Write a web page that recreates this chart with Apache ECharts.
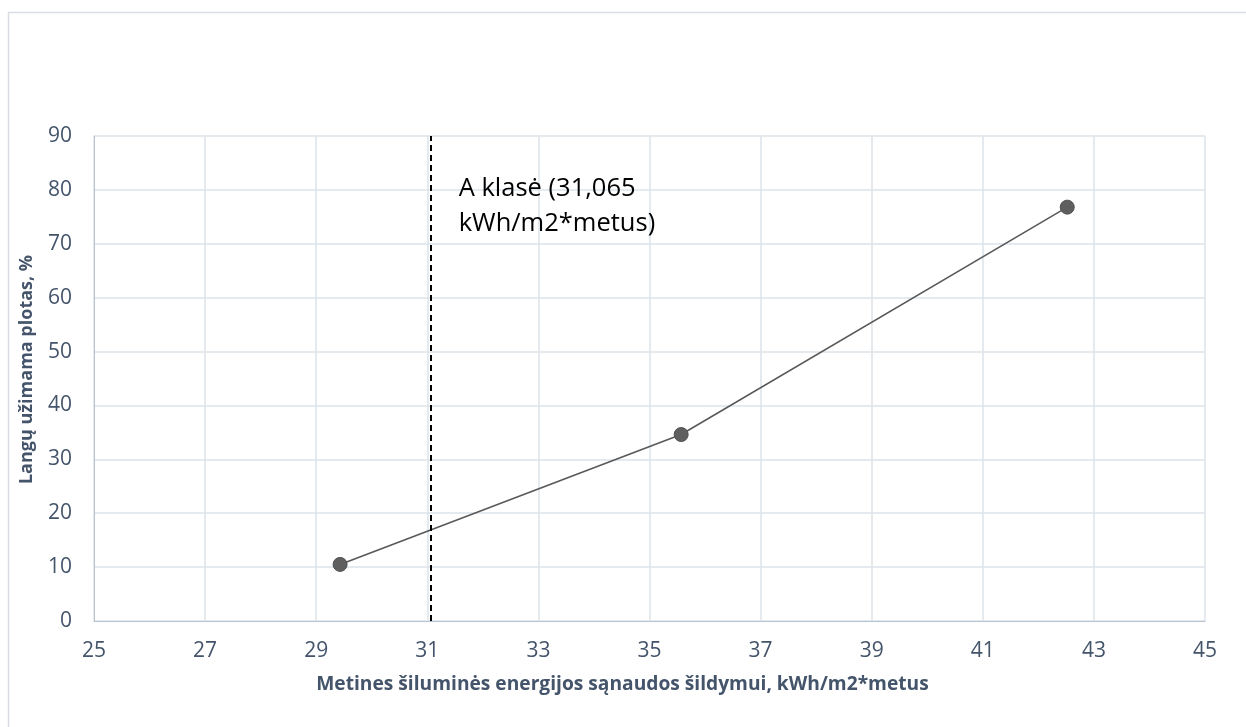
<!DOCTYPE html>
<html>
<head>
<meta charset="utf-8">
<script src="https://cdn.jsdelivr.net/npm/echarts@6/dist/echarts.min.js"></script>
<style>
  html, body { margin: 0; padding: 0; background: #fff; }
  #chart { width: 1246px; height: 727px; }
</style>
</head>
<body>
<div id="chart"></div>
<script>
// Heating energy demand vs. window share of the facade
const energyUse = [29.43, 35.57, 42.52];   // kWh/m2*metus
const windowShare = [10.5, 34.6, 76.8];    // %
const classALimit = 31.065;
const classALabel = ['A klasė (31,065', 'kWh/m2*metus)'];
const xTitle = 'Metines šiluminės energijos sąnaudos šildymui, kWh/m2*metus';
const yTitle = 'Langų užimama plotas, %';

const textColor = '#44546a';
const gridColor = '#dde3ea';
const axisColor = '#b8c3d0';
const fontFamily = '"Open Sans", Lato, sans-serif';

const chart = echarts.init(document.getElementById('chart'), null, { renderer: 'canvas' });

const points = energyUse.map((x, i) => [x, windowShare[i]]);

chart.setOption({
  animation: false,
  backgroundColor: '#fff',
  grid: { left: 94, right: 41, top: 136, bottom: 106, containLabel: false },
  xAxis: {
    type: 'value',
    min: 25, max: 45, interval: 2,
    name: xTitle,
    nameLocation: 'middle',
    nameGap: 54,
    nameTextStyle: { color: textColor, fontSize: 19.2, fontWeight: 'bold', fontFamily, padding: [0, 54, 0, 0] },
    axisLine: { show: true, lineStyle: { color: axisColor, width: 1 } },
    axisTick: { show: false },
    axisLabel: { color: textColor, fontSize: 21, fontFamily, margin: 20 },
    splitLine: { show: true, lineStyle: { color: gridColor, width: 1.5 } }
  },
  yAxis: {
    type: 'value',
    min: 0, max: 90, interval: 10,
    name: yTitle,
    nameLocation: 'middle',
    nameGap: 58,
    nameTextStyle: { color: textColor, fontSize: 18, fontWeight: 'bold', fontFamily, padding: [0, 0, 0, 18] },
    axisLine: { show: true, lineStyle: { color: axisColor, width: 1 } },
    axisTick: { show: false },
    axisLabel: { color: textColor, fontSize: 21, fontFamily, margin: 22 },
    splitLine: { show: true, lineStyle: { color: gridColor, width: 1.5 } }
  },
  series: [{
    type: 'line',
    data: points,
    symbol: 'circle',
    symbolSize: 14,
    itemStyle: { color: '#5f5f5f', borderColor: '#505050', borderWidth: 1 },
    lineStyle: { color: '#595959', width: 1.6 },
    markLine: {
      silent: true,
      symbol: 'none',
      label: { show: false },
      lineStyle: { color: '#000', width: 2, type: [6, 4] },
      data: [{ xAxis: classALimit }]
    }
  }]
});

// Annotation text next to the class A threshold line
const anchor = chart.convertToPixel({ gridIndex: 0 }, [classALimit + 0.5, 83.5]);
chart.setOption({
  graphic: [
    {
      type: 'rect',
      shape: { x: 8.5, y: 12.5, width: 1260, height: 740 },
      style: { fill: 'none', stroke: '#d9dde3', lineWidth: 1.5 },
      silent: true,
      z: -1
    },
    {
      type: 'text',
      x: anchor[0],
      y: anchor[1],
      style: {
        text: classALabel.join('\n'),
        fill: '#000',
        fontSize: 25.5,
        fontFamily,
        lineHeight: 35
      },
      silent: true
    }
  ]
});
</script>
</body>
</html>
